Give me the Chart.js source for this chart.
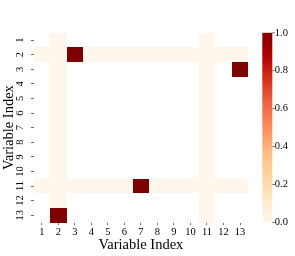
<!DOCTYPE html>
<html lang="en">
<head>
    <meta charset="UTF-8">
    <title>Variable Index Heatmap</title>
    <script src="https://cdn.jsdelivr.net/npm/chart.js"></script>
    <style>
        html, body { margin: 0; padding: 0; background: #fff; }
        #wrap { position: relative; width: 295px; height: 256px; }
    </style>
</head>
<body>
    <div id="wrap"><canvas id="heat-chart"></canvas></div>

    <script>
    // Row / column labels (1..13)
    const rowLabels = [1, 2, 3, 4, 5, 6, 7, 8, 9, 10, 11, 12, 13];
    const colLabels = [1, 2, 3, 4, 5, 6, 7, 8, 9, 10, 11, 12, 13];

    // Cell values, null = masked (left blank)
    const N = null;
    const matrix = [
        [N, 0, N, N, N, N, N, N, N, N, 0, N, N],
        [0, 0, 1, 0, 0, 0, 0, 0, 0, 0, 0, 0, 0],
        [N, 0, N, N, N, N, N, N, N, N, 0, N, 1],
        [N, 0, N, N, N, N, N, N, N, N, 0, N, N],
        [N, 0, N, N, N, N, N, N, N, N, 0, N, N],
        [N, 0, N, N, N, N, N, N, N, N, 0, N, N],
        [N, 0, N, N, N, N, N, N, N, N, 0, N, N],
        [N, 0, N, N, N, N, N, N, N, N, 0, N, N],
        [N, 0, N, N, N, N, N, N, N, N, 0, N, N],
        [N, 0, N, N, N, N, N, N, N, N, 0, N, N],
        [0, 0, 0, 0, 0, 0, 1, 0, 0, 0, 0, 0, 0],
        [N, 0, N, N, N, N, N, N, N, N, 0, N, N],
        [N, 1, N, N, N, N, N, N, N, N, 0, N, N]
    ];

    // Colour bar ticks
    const cbTicks = [0, 0.2, 0.4, 0.6, 0.8, 1.0];

    // OrRd colour map
    const orrd = ['#fff7ec', '#fee8c8', '#fdd49e', '#fdbb84', '#fc8d59', '#ef6548', '#d7301f', '#b30000', '#7f0000'];

    function hexToRgb(h) {
        return [parseInt(h.slice(1, 3), 16), parseInt(h.slice(3, 5), 16), parseInt(h.slice(5, 7), 16)];
    }
    function cmap(v) {
        const t = Math.max(0, Math.min(1, v)) * (orrd.length - 1);
        const i = Math.min(Math.floor(t), orrd.length - 2);
        const f = t - i;
        const a = hexToRgb(orrd[i]), b = hexToRgb(orrd[i + 1]);
        const c = a.map((x, k) => Math.round(x + (b[k] - x) * f));
        return `rgb(${c[0]},${c[1]},${c[2]})`;
    }

    // one point per visible cell
    const cells = [];
    matrix.forEach((row, r) => row.forEach((v, c) => {
        if (v !== null) cells.push({ x: colLabels[c], y: rowLabels[r], v: v });
    }));

    const serif = "'Liberation Serif', 'DejaVu Serif', serif";
    const tickFont = { family: serif, size: 10.5 };

    // draws the cells and the colour bar through the chart scales
    const heatPlugin = {
        id: 'heat',
        beforeDatasetsDraw(chart) {
            const { ctx, scales: { x, y, cb } } = chart;
            ctx.save();
            chart.data.datasets[0].data.forEach(d => {
                const x0 = Math.round(x.getPixelForValue(d.x - 0.5));
                const x1 = Math.round(x.getPixelForValue(d.x + 0.5));
                const y0 = Math.round(y.getPixelForValue(d.y - 0.5));
                const y1 = Math.round(y.getPixelForValue(d.y + 0.5));
                ctx.fillStyle = cmap(d.v);
                ctx.fillRect(x0, y0, x1 - x0, y1 - y0);
            });

            // colour bar
            const top = cb.getPixelForValue(1);
            const bot = cb.getPixelForValue(0);
            const left = chart.chartArea.right + 14;
            const w = 10;
            const g = ctx.createLinearGradient(0, bot, 0, top);
            orrd.forEach((c, i) => g.addColorStop(i / (orrd.length - 1), c));
            ctx.fillStyle = g;
            ctx.fillRect(left, top, w, bot - top);

            ctx.strokeStyle = '#444';
            ctx.lineWidth = 0.8;
            cb.ticks.forEach(t => {
                const py = cb.getPixelForValue(t.value);
                ctx.beginPath();
                ctx.moveTo(left + w, py);
                ctx.lineTo(left + w + 2.5, py);
                ctx.stroke();
            });
            ctx.restore();
        }
    };

    const tickGrid = { display: true, drawOnChartArea: false, drawTicks: true, tickLength: 2.5, color: '#444', lineWidth: 0.8 };

    new Chart(document.getElementById('heat-chart'), {
        type: 'scatter',
        data: {
            datasets: [{
                label: 'cells',
                data: cells,
                pointRadius: 0,
                pointHoverRadius: 0
            }]
        },
        options: {
            responsive: true,
            maintainAspectRatio: false,
            animation: false,
            events: [],
            layout: { padding: { top: 7.7, left: 0, right: 0, bottom: 0 } },
            plugins: { legend: { display: false }, tooltip: { enabled: false } },
            scales: {
                x: {
                    type: 'linear',
                    position: 'bottom',
                    min: 0.5,
                    max: 13.5,
                    afterBuildTicks: s => { s.ticks = colLabels.map(v => ({ value: v })); },
                    afterFit: s => { s.height = 33.5; },
                    grid: tickGrid,
                    border: { display: false },
                    ticks: { autoSkip: false, maxRotation: 0, padding: 0.5, color: '#000', font: tickFont },
                    title: { display: true, text: 'Variable Index', color: '#000', font: { family: serif, size: 14.5 }, padding: { top: 0, bottom: 2.4 } }
                },
                y: {
                    type: 'linear',
                    position: 'left',
                    reverse: true,
                    min: 0.5,
                    max: 13.5,
                    afterBuildTicks: s => { s.ticks = rowLabels.map(v => ({ value: v })); },
                    afterFit: s => { s.width = 33.5; },
                    grid: tickGrid,
                    border: { display: false },
                    ticks: { autoSkip: false, minRotation: 90, maxRotation: 90, crossAlign: 'center', padding: 5.2, color: '#000', font: tickFont },
                    title: { display: true, text: 'Variable Index', color: '#000', font: { family: serif, size: 14.5 }, padding: { top: 0.3, bottom: 0 } }
                },
                cb: {
                    type: 'linear',
                    position: 'right',
                    axis: 'y',
                    min: 0,
                    max: 1,
                    afterBuildTicks: s => { s.ticks = cbTicks.map(v => ({ value: v })); },
                    afterFit: s => { s.width = 46.7; },
                    grid: { display: false, drawTicks: false },
                    border: { display: false },
                    ticks: { autoSkip: false, padding: 26.5, color: '#000', font: tickFont, callback: v => v.toFixed(1) }
                }
            }
        },
        plugins: [heatPlugin]
    });
    </script>
</body>
</html>
